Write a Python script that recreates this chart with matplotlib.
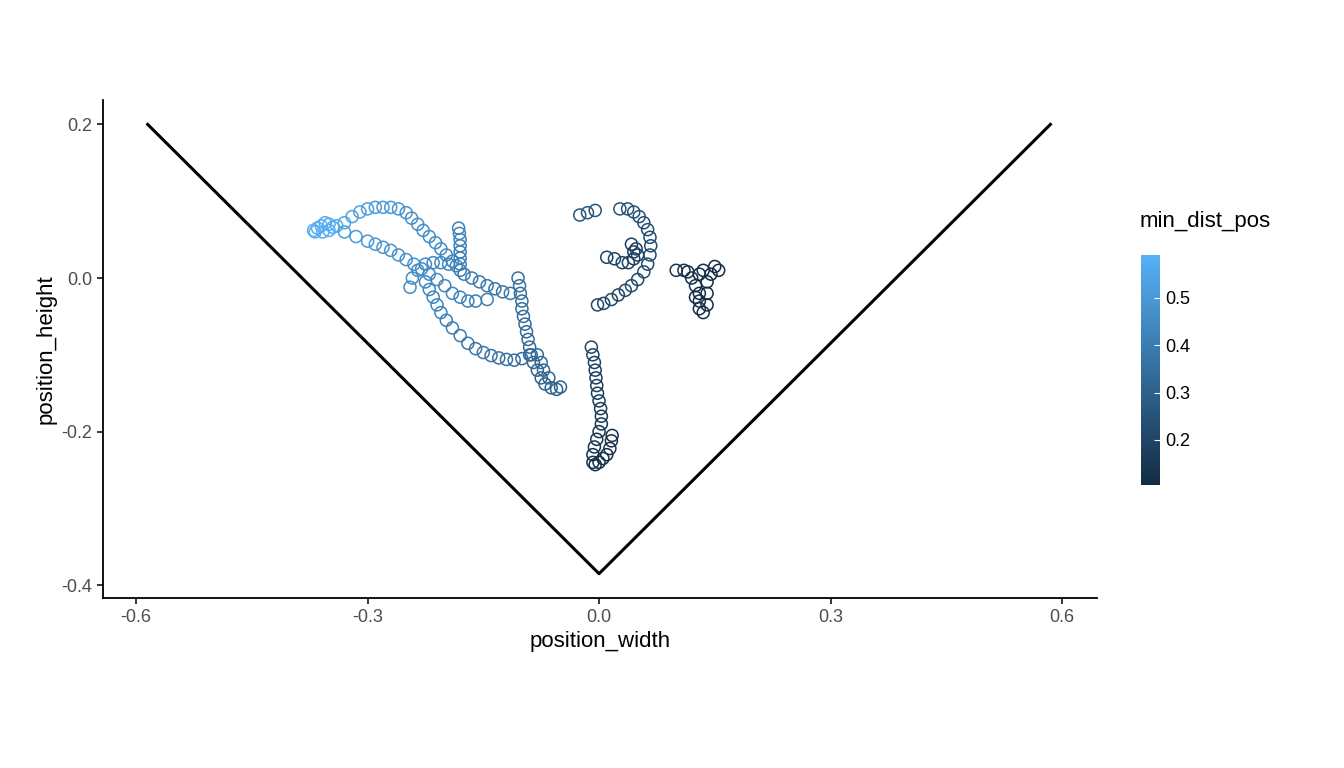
import numpy as np
import matplotlib.pyplot as plt
from matplotlib.colors import LinearSegmentedColormap, Normalize

# ---- data ----
# upper blue arc + vertical strip + diagonal down
path_a_x = [-0.37,-0.365,-0.36,-0.355,-0.35,-0.345,-0.34,-0.368,-0.358,-0.35,
            -0.33,-0.32,-0.31,-0.30,-0.29,-0.28,-0.27,-0.26,-0.25,-0.243,-0.235,-0.228,-0.22,-0.212,-0.205,-0.198,-0.19,-0.185,
            -0.182,-0.181,-0.18,-0.18,-0.18,-0.18,-0.18,-0.18,
            -0.175,-0.165,-0.155,-0.145,-0.135,-0.125,-0.115,
            -0.105,-0.103,-0.102,-0.1,-0.1,-0.098,-0.096,-0.094,-0.092,-0.09,-0.088,-0.085,-0.08,-0.075,-0.07,-0.062,-0.055,-0.05]
path_a_y = [0.062,0.065,0.068,0.072,0.07,0.066,0.068,0.06,0.06,0.062,
            0.072,0.08,0.086,0.09,0.092,0.092,0.092,0.09,0.085,0.078,0.07,0.062,0.054,0.046,0.038,0.03,0.022,0.016,
            0.065,0.058,0.05,0.042,0.034,0.026,0.018,0.01,
            0.005,0.0,-0.005,-0.01,-0.014,-0.018,-0.02,
            0.0,-0.01,-0.02,-0.03,-0.04,-0.05,-0.06,-0.07,-0.08,-0.09,-0.1,-0.11,-0.12,-0.13,-0.138,-0.143,-0.145,-0.142]
path_a_v = [0.58,0.58,0.58,0.57,0.57,0.57,0.57,0.58,0.58,0.57,
            0.55,0.54,0.53,0.52,0.51,0.5,0.5,0.49,0.48,0.47,0.47,0.46,0.46,0.45,0.45,0.44,0.44,0.43,
            0.42,0.42,0.42,0.42,0.41,0.41,0.41,0.41,
            0.4,0.4,0.39,0.39,0.38,0.38,0.38,
            0.36,0.36,0.35,0.35,0.35,0.34,0.34,0.33,0.33,0.33,0.32,0.32,0.31,0.31,0.3,0.3,0.3,0.3]

# lower blue path
path_b_x = [-0.33,-0.315,-0.3,-0.29,-0.28,-0.27,-0.26,-0.25,-0.24,-0.23,-0.22,-0.21,
            -0.225,-0.22,-0.215,-0.21,-0.205,-0.198,-0.19,-0.18,-0.17,-0.16,-0.15,-0.14,-0.13,-0.12,-0.11,-0.1,-0.09,-0.08,-0.075,-0.072,-0.065]
path_b_y = [0.06,0.054,0.048,0.044,0.04,0.036,0.03,0.024,0.018,0.012,0.005,-0.002,
            -0.005,-0.015,-0.025,-0.035,-0.045,-0.055,-0.065,-0.075,-0.085,-0.092,-0.097,-0.101,-0.104,-0.106,-0.107,-0.105,-0.1,-0.1,-0.11,-0.12,-0.13]
path_b_v = [0.52,0.51,0.5,0.5,0.49,0.48,0.48,0.47,0.47,0.46,0.46,0.45,
            0.44,0.44,0.43,0.43,0.42,0.41,0.41,0.4,0.39,0.38,0.38,0.37,0.36,0.36,0.35,0.34,0.34,0.33,0.33,0.32,0.32]

# middle knot
path_c_x = [-0.245,-0.242,-0.235,-0.225,-0.215,-0.205,-0.195,-0.2,-0.19,-0.18,-0.17,-0.16,-0.145]
path_c_y = [-0.012,0.0,0.01,0.018,0.02,0.02,0.018,-0.01,-0.02,-0.025,-0.03,-0.03,-0.028]
path_c_v = [0.45,0.45,0.45,0.45,0.44,0.44,0.44,0.43,0.43,0.42,0.42,0.41,0.41]

# dark vertical strip near x=0
path_d_x = [-0.01,-0.008,-0.006,-0.005,-0.004,-0.003,-0.002,0.0,0.002,0.003,0.003,0.0,-0.003,-0.006,-0.008,-0.008,-0.005,0.0,0.005,0.01,0.014,0.016,0.017]
path_d_y = [-0.09,-0.1,-0.11,-0.12,-0.13,-0.14,-0.15,-0.16,-0.17,-0.18,-0.19,-0.2,-0.21,-0.22,-0.23,-0.24,-0.243,-0.24,-0.235,-0.23,-0.222,-0.212,-0.205]
path_d_v = [0.2,0.2,0.19,0.19,0.18,0.18,0.17,0.17,0.16,0.16,0.15,0.15,0.14,0.14,0.13,0.13,0.12,0.12,0.12,0.12,0.13,0.13,0.13]

# right arc
path_e_x = [-0.025,-0.015,-0.005,0.027,0.037,0.045,0.052,0.058,0.063,0.066,0.067,0.066,0.063,0.058,0.05,0.042,0.034,0.025,0.016,0.006,-0.002,
            0.01,0.02,0.03,0.038,0.045,0.05,0.048,0.042,0.045]
path_e_y = [0.082,0.085,0.088,0.09,0.09,0.086,0.08,0.072,0.063,0.053,0.042,0.03,0.018,0.008,-0.002,-0.01,-0.016,-0.022,-0.028,-0.033,-0.035,
            0.027,0.025,0.02,0.02,0.025,0.03,0.038,0.044,0.034]
path_e_v = [0.26,0.26,0.25,0.25,0.25,0.24,0.24,0.24,0.23,0.23,0.23,0.22,0.22,0.22,0.21,0.21,0.21,0.2,0.2,0.2,0.2,
            0.19,0.19,0.19,0.19,0.18,0.18,0.18,0.18,0.18]

# dark cluster far right
path_f_x = [0.1,0.11,0.115,0.12,0.125,0.13,0.13,0.13,0.135,0.14,0.14,0.14,0.135,0.15,0.155,0.145,0.13,0.125]
path_f_y = [0.01,0.01,0.008,0.0,-0.01,-0.02,-0.03,-0.04,-0.045,-0.035,-0.02,-0.005,0.01,0.015,0.01,0.005,0.005,-0.025]
path_f_v = [0.14,0.14,0.13,0.13,0.13,0.12,0.12,0.12,0.12,0.11,0.11,0.11,0.11,0.11,0.11,0.11,0.11,0.11]

boundary_x = [-0.585, 0.0, 0.585]
boundary_y = [0.2, -0.385, 0.2]

xs = np.array(path_a_x + path_b_x + path_c_x + path_d_x + path_e_x + path_f_x)
ys = np.array(path_a_y + path_b_y + path_c_y + path_d_y + path_e_y + path_f_y)
vs = np.array(path_a_v + path_b_v + path_c_v + path_d_v + path_e_v + path_f_v)

# ---- plot ----
plt.rcParams['font.family'] = ['Liberation Sans', 'DejaVu Sans']
cmap = LinearSegmentedColormap.from_list("gg", ["#132B43", "#56B1F7"])
norm = Normalize(vmin=0.105, vmax=0.59)

fig = plt.figure(figsize=(13.44, 7.68), dpi=100)
ax = fig.add_axes([0.0766, 0.221, 0.7394, 0.649])

ax.plot(boundary_x, boundary_y, color="black", lw=2.2, zorder=1)
ax.scatter(xs, ys, s=75, facecolors="none", edgecolors=cmap(norm(vs)), linewidths=1.1, zorder=2)

ax.set_xlim(-0.643, 0.645)
ax.set_ylim(-0.417, 0.232)
ax.set_xticks([-0.6, -0.3, 0.0, 0.3, 0.6])
ax.set_xticklabels(["-0.6", "-0.3", "0.0", "0.3", "0.6"])
ax.set_yticks([-0.4, -0.2, 0.0, 0.2])
ax.set_yticklabels(["-0.4", "-0.2", "0.0", "0.2"])
for s in ["top", "right"]:
    ax.spines[s].set_visible(False)
for s in ["left", "bottom"]:
    ax.spines[s].set_linewidth(1.3)
ax.tick_params(labelsize=13, colors="#4d4d4d", length=4, width=1.1)
ax.tick_params(axis="both", colors="black", labelcolor="#4d4d4d")
ax.set_xlabel("position_width", fontsize=16)
ax.set_ylabel("position_height", fontsize=16)

cax = fig.add_axes([1141/1344, 1 - 485/768, 19/1344, 230/768])
sm = plt.cm.ScalarMappable(norm=norm, cmap=cmap)
cb = fig.colorbar(sm, cax=cax, ticks=[0.2, 0.3, 0.4, 0.5])
cb.outline.set_visible(False)
cb.ax.tick_params(labelsize=13, color="white", length=4, direction="in")
fig.text(1140/1344, 1 - 232/768, "min_dist_pos", fontsize=16, va="bottom")

fig.savefig("out.png", dpi=100)
